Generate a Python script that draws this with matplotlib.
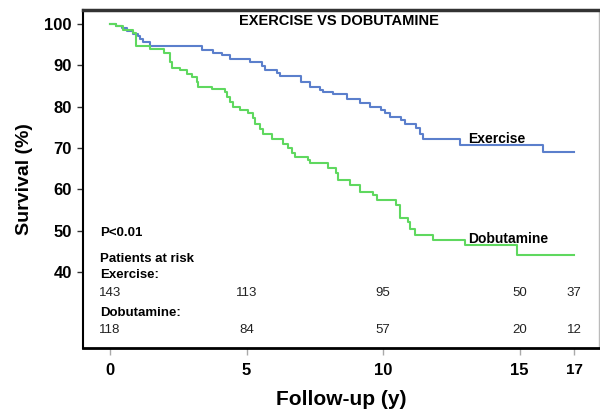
import numpy as np
import matplotlib.pyplot as plt
plt.rcParams['font.family'] = ['Liberation Sans', 'DejaVu Sans']

# Kaplan-Meier curves (years, survival %)
ex_t = [0, 0.22, 0.43, 0.61, 0.85, 1.04, 1.09, 1.22, 1.46, 3.35, 3.77, 4.09, 4.39, 5.12,
        5.55, 5.67, 6.10, 6.22, 7.01, 7.32, 7.68, 7.80, 8.16, 8.66, 9.15, 9.51, 9.94, 10.06,
        10.25, 10.67, 10.79, 11.22, 11.34, 11.46, 12.81, 15.85, 17.0]
ex_s = [100, 99.5, 99.0, 98.4, 97.7, 97.1, 96.3, 95.6, 94.7, 93.7, 93.1, 92.4, 91.5, 90.8,
        89.8, 88.9, 88.2, 87.4, 86.0, 84.8, 84.0, 83.5, 83.0, 81.8, 80.8, 80.0, 79.2, 78.4,
        77.4, 76.8, 75.8, 74.8, 73.5, 72.3, 70.7, 69.1, 69.1]

dob_t = [0, 0.22, 0.48, 0.85, 0.95, 1.46, 1.98, 2.20, 2.26, 2.56, 2.81, 2.99, 3.17, 3.23,
         3.72, 4.21, 4.27, 4.39, 4.51, 4.76, 5.06, 5.24, 5.31, 5.49, 5.61, 5.92, 6.34, 6.52,
         6.65, 6.77, 7.26, 7.32, 7.99, 8.29, 8.35, 8.78, 9.15, 9.63, 9.76, 10.49, 10.61,
         10.91, 10.98, 11.16, 11.83, 12.99, 14.90, 17.0]
dob_s = [100, 99.5, 98.5, 97.8, 94.7, 93.9, 92.9, 90.9, 89.3, 88.9, 87.9, 87.2, 86.0, 84.8,
         84.2, 83.6, 82.4, 81.2, 80.0, 79.3, 78.4, 77.2, 75.8, 74.7, 73.5, 72.3, 71.1, 69.9,
         68.7, 67.9, 67.1, 66.3, 65.1, 64.0, 62.2, 61.0, 59.4, 58.6, 57.4, 56.2, 53.2,
         52.1, 50.5, 48.9, 47.7, 46.5, 44.1, 44.1]

# patients at risk
risk_t = [0, 5, 10, 15, 17]
risk_ex = [143, 113, 95, 50, 37]
risk_dob = [118, 84, 57, 20, 12]

xticks = [0, 5, 10, 15, 17]
yticks = [40, 50, 60, 70, 80, 90, 100]

fig = plt.figure(figsize=(6, 4.15), dpi=100)
ax = fig.add_axes([0.138, 0.161, 0.86, 0.815])

ax.plot(ex_t, ex_s, drawstyle='steps-post', color='#5b7fcc', lw=1.5)
ax.plot(dob_t, dob_s, drawstyle='steps-post', color='#5fd85f', lw=1.5)

ax.set_xlim(-1, 17.9)
ax.set_ylim(21.6, 103.4)
ax.set_xticks(xticks)
ax.set_yticks(yticks)
ax.set_xticklabels([str(v) for v in xticks], fontsize=12, fontweight='bold')
ax.set_yticklabels([str(v) for v in yticks], fontsize=12, fontweight='bold')
ax.get_xticklabels()[-1].set_fontsize(11)
ax.tick_params(axis='x', direction='out', length=5, width=1, color='#aaaaaa', pad=6)
ax.tick_params(axis='y', direction='out', length=4, width=1, color='#333333', pad=4)

ax.spines['left'].set_linewidth(1.5)
ax.spines['bottom'].set_linewidth(2)
ax.spines['top'].set_linewidth(2.5)
ax.spines['top'].set_color('#333333')
ax.spines['right'].set_color('#bbbbbb')
ax.spines['right'].set_linewidth(1)

ax.set_xlabel('Follow-up (y)', fontsize=15, fontweight='bold', labelpad=8)
ax.set_ylabel('Survival (%)', fontsize=14, fontweight='bold', labelpad=8)

ax.text(8.4, 100.8, 'EXERCISE VS DOBUTAMINE', fontsize=10.5, fontweight='bold',
        ha='center', va='center')
ax.text(13.1, 72.3, 'Exercise', fontsize=10, fontweight='bold', va='center')
ax.text(13.1, 48.1, 'Dobutamine', fontsize=10, fontweight='bold', va='center')

ax.text(-0.37, 49.4, 'P<0.01', fontsize=9.5, fontweight='bold', va='center')
ax.text(-0.37, 43.1, 'Patients at risk', fontsize=9.5, fontweight='bold', va='center')
ax.text(-0.37, 39.3, 'Exercise:', fontsize=9.5, fontweight='bold', va='center')
ax.text(-0.37, 30.2, 'Dobutamine:', fontsize=9.5, fontweight='bold', va='center')
for t, a, b in zip(risk_t, risk_ex, risk_dob):
    ax.text(t, 35.0, str(a), fontsize=9.5, ha='center', va='center', color='#222222')
    ax.text(t, 26.0, str(b), fontsize=9.5, ha='center', va='center', color='#222222')

fig.savefig('out.png', dpi=100)
